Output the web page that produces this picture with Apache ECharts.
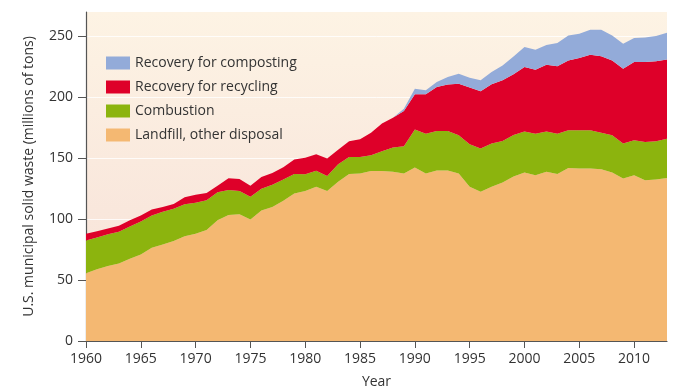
<!DOCTYPE html>
<html>
<head>
<meta charset="utf-8">
<script src="https://cdn.jsdelivr.net/npm/echarts@6/dist/echarts.min.js"></script>
<style>html,body{margin:0;padding:0;background:#fff}#c{width:687px;height:390px}</style>
</head>
<body>
<div id="c"></div>
<script>
var years = [];
for (var y = 1960; y <= 2013; y++) years.push(String(y));

var landfill = [55.5,58.8,61.5,63.6,67.5,71,76.5,79.2,82,86,88,91,99,103.5,104,99.7,107,110,115,121,123,126.5,123,130.6,137,137.5,139.6,139.6,138.8,137.4,142.4,137.4,140,140,137.4,126.5,122.4,126.5,130,135,138.2,136,138.8,137,142,141.5,141.5,141,138.2,133.3,136,132,132.5,133.8];
var combustion = [27,26.2,26.2,26,26.5,27,26.5,26.8,26.5,26.3,25.5,24.6,23,20.5,19,18.6,18,18.3,17.5,16,13.8,13.3,12.5,14.4,14,13.5,12.9,16.1,19.9,22.4,31.1,32.6,32.4,32.4,31.5,35,35.6,35.5,34.2,34,33.8,34,33.2,33,31,31.5,31.5,30,30.7,28.7,28.8,31.4,31.5,32.2];
var recycling = [5.5,5,4.6,4.9,5,5,5,4,4,5.7,6.5,5.9,5.5,9.5,10,9.2,9.5,9.5,10,12,13.5,13.5,14.2,12,13,14.5,18.5,22.7,24.6,29,29,32.5,36.1,38,42.3,46.5,47,48.7,49.7,50,52.8,52.7,54.8,55.4,57.3,59.2,62,62.6,61.4,61.5,64.2,65.6,65.5,65];
var composting = [0,0,0,0,0,0,0,0,0,0,0,0,0,0,0,0,0,0,0,0,0,0,0,0,0,0,0,0,0,1.9,4.5,3.2,4,6.3,8.2,8,8.9,10,12.1,14.5,16.4,16.3,16.2,19.1,20.5,20,20.5,21.9,20.5,20.5,19.6,20,20.8,22];
var yTicks = [0,50,100,150,200,250];

var FONT = '"Open Sans", "Noto Sans", sans-serif';
function mk(name, data, color) {
  return {
    name: name, type: 'line', stack: 'total', data: data,
    showSymbol: false, symbol: 'none',
    lineStyle: { width: 0, color: color },
    itemStyle: { color: color },
    areaStyle: { color: color, opacity: 1 },
    emphasis: { disabled: true },
    animation: false
  };
}

var chart = echarts.init(document.getElementById('c'));
chart.setOption({
  animation: false,
  textStyle: { fontFamily: FONT },
  grid: {
    left: 86, right: 20, top: 12, bottom: 49, show: true, borderWidth: 0,
    containLabel: false, outerBoundsMode: 'none',
    backgroundColor: new echarts.graphic.LinearGradient(0, 0, 0, 1, [
      { offset: 0, color: '#fdf3e4' }, { offset: 0.6, color: '#f9e7dc' }, { offset: 1, color: '#f8e4da' }
    ])
  },
  legend: {
    orient: 'vertical', left: 106, top: 56, padding: 0,
    itemWidth: 24, itemHeight: 13, itemGap: 10, icon: 'rect',
    data: ['Recovery for composting', 'Recovery for recycling', 'Combustion', 'Landfill, other disposal'],
    textStyle: { fontFamily: FONT, fontSize: 14, color: '#333' },
    selectedMode: false
  },
  xAxis: {
    type: 'category', data: years, boundaryGap: false,
    name: 'Year', nameLocation: 'middle', nameGap: 34,
    nameTextStyle: { fontFamily: FONT, fontSize: 14, color: '#333' },
    axisLine: { lineStyle: { color: '#555', width: 1.2 } },
    axisTick: { length: 7, lineStyle: { color: '#555' }, interval: function (i) { return i % 5 === 0; } },
    axisLabel: { fontFamily: FONT, fontSize: 14, color: '#333', margin: 11, interval: function (i) { return i % 5 === 0; } },
    splitLine: { show: false }
  },
  yAxis: {
    type: 'value', min: 0, max: 270, interval: 50,
    name: 'U.S. municipal solid waste (millions of tons)', nameLocation: 'middle', nameGap: 50,
    nameTextStyle: { fontFamily: FONT, fontSize: 14, color: '#333' },
    axisLine: { show: true, lineStyle: { color: '#555', width: 1.2 } },
    axisTick: { show: true, length: 8, lineStyle: { color: '#555' }, customValues: yTicks },
    axisLabel: { fontFamily: FONT, fontSize: 14, color: '#333', margin: 13, customValues: yTicks },
    splitLine: { show: true, lineStyle: { color: 'rgba(255,255,255,0.8)', width: 1 } }
  },
  series: [
    mk('Landfill, other disposal', landfill, '#f4b872'),
    mk('Combustion', combustion, '#8cb40e'),
    mk('Recovery for recycling', recycling, '#de0029'),
    mk('Recovery for composting', composting, '#93abd9')
  ]
});
</script>
</body>
</html>
